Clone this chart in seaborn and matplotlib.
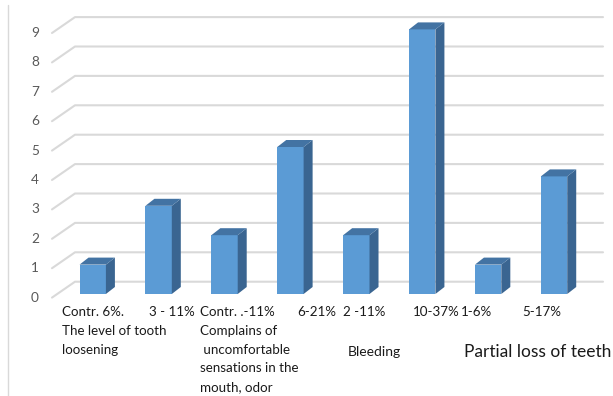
import matplotlib
matplotlib.use("Agg")
import matplotlib.pyplot as plt
import matplotlib.transforms as mtransforms
from matplotlib.patches import Polygon
from matplotlib.lines import Line2D
import seaborn as sns
import pandas as pd

# ---- data -------------------------------------------------------------
categories = [
    "Contr. 6%.\nThe level of tooth\nloosening",
    "3 - 11%",
    "Contr. .-11%\nComplains of\n uncomfortable\nsensations in the\nmouth, odor",
    "6-21%",
    "2 -11%",
    "10-37%",
    "1-6%",
    "5-17%",
]
values = [1, 3, 2, 5, 2, 9, 1, 4]
group_labels = ["Bleeding", "Partial loss of teeth"]
group_anchor = [4, 6]          # category each group caption sits under
y_ticks = list(range(0, 10))

# ---- layout (pixels) --------------------------------------------------
W, H = 613, 396
label_shift = [-31, -10, -25, 7, -13, -9, -27, -32]   # left edge vs bar centre
group_shift = [-9, -24]
group_size = [10.0, 12.5]
FIRST_ROW, ROW_STEP = 312, 18.75
DEPTH_X, DEPTH_Y = 9, 7        # bar extrusion
WALL_X, WALL_Y = 23, 12.3      # back wall offset from bar plane
FLOOR_DROP = 3.6               # front floor edge below bar plane

FRONT = "#5B9BD5"
SIDE = "#3A6591"
TOP = "#4373A3"
GRID = "#D9D9D9"

sns.set_theme(style="white")
plt.rcParams["font.family"] = ["Lato", "DejaVu Sans"]

fig = plt.figure(figsize=(W / 100, H / 100), dpi=100)
fig.patch.set_facecolor("white")
ax = fig.add_axes([52 / W, (H - 294) / H, (603 - 52) / W, (294 - 29.4) / H])

df = pd.DataFrame({"cat": [str(i) for i in range(len(values))], "val": values})
sns.barplot(data=df, x="cat", y="val", color=FRONT, saturation=1,
            width=0.40, ax=ax, zorder=3, edgecolor="none", linewidth=0)
ax.set_xlim(-0.618, 7.743)
ax.set_ylim(0, 9)
ax.axis("off")
ax.patch.set_alpha(0)

ident = mtransforms.IdentityTransform()
ax_left, _ = ax.transAxes.transform((0, 0))
ax_right, _ = ax.transAxes.transform((1, 0))

# gridlines on the back wall with the slanted floor-edge stubs
for v in y_ticks:
    yd = ax.transData.transform((0, v))[1]
    ax.add_line(Line2D([ax_left, ax_left + WALL_X, ax_right],
                       [yd - FLOOR_DROP, yd + WALL_Y, yd + WALL_Y],
                       transform=ident, color=GRID, lw=1.5,
                       clip_on=False, zorder=1))
    ax.text(35, yd - FLOOR_DROP, str(v), transform=ident, ha="center",
            va="center", color="#595959", fontsize=9.8)

# extruded side and top faces of each bar
for p in ax.patches:
    (x0, y0), (x1, y1) = ax.transData.transform(
        [(p.get_x(), p.get_y()), (p.get_x() + p.get_width(), p.get_y() + p.get_height())])
    side = Polygon([(x1, y0), (x1 + DEPTH_X, y0 + DEPTH_Y),
                    (x1 + DEPTH_X, y1 + DEPTH_Y), (x1, y1)],
                   closed=True, transform=ident, facecolor=SIDE,
                   edgecolor="none", clip_on=False, zorder=3)
    top = Polygon([(x0, y1), (x0 + DEPTH_X, y1 + DEPTH_Y),
                   (x1 + DEPTH_X, y1 + DEPTH_Y), (x1, y1)],
                  closed=True, transform=ident, facecolor=TOP,
                  edgecolor="none", clip_on=False, zorder=3)
    ax.add_patch(side)
    ax.add_patch(top)
    p.set_clip_on(False)

# category captions, one text per wrapped line
for i, lab in enumerate(categories):
    xc = ax.transData.transform((i, 0))[0]
    for k, line in enumerate(lab.split("\n")):
        ax.text(xc + label_shift[i], H - (FIRST_ROW + k * ROW_STEP), line,
                transform=ident, ha="left", va="center",
                color="#1a1a1a", fontsize=9.6)

for lab, anchor, shift, size in zip(group_labels, group_anchor, group_shift, group_size):
    xc = ax.transData.transform((anchor, 0))[0]
    ax.text(xc + shift, H - 352, lab, transform=ident, ha="left",
            va="center", color="#1a1a1a", fontsize=size)

# chart-area border on the left
fig.add_artist(Line2D([8, 8], [0, H - 5], transform=ident, color=GRID, lw=1))

fig.savefig("out.png", dpi=100)
